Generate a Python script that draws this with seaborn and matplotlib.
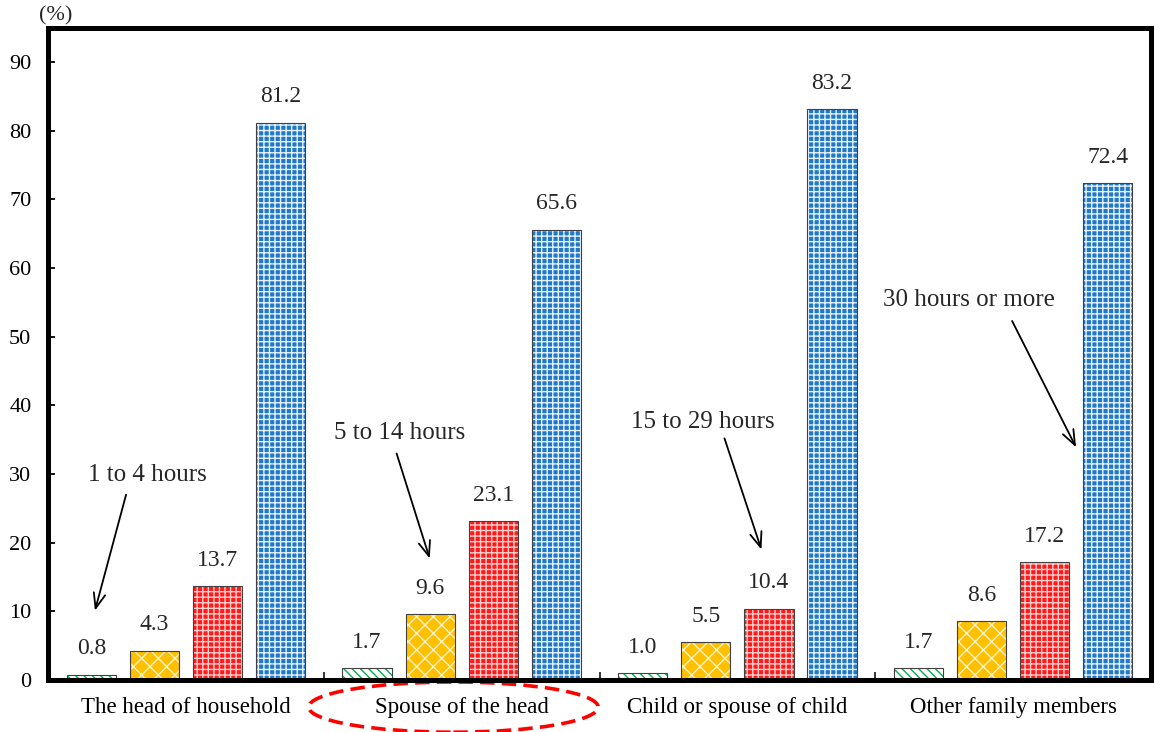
import matplotlib
matplotlib.use("Agg")
import matplotlib.pyplot as plt
import matplotlib.colors as mcolors
from matplotlib.patches import Ellipse
from matplotlib.ticker import FixedLocator
import pandas as pd
import seaborn as sns

# Share of workers by weekly working hours, per relation to household head (%)
categories = ["The head of household", "Spouse of the head",
              "Child or spouse of child", "Other family members"]
hour_groups = ["1 to 4 hours", "5 to 14 hours", "15 to 29 hours", "30 hours or more"]
h_1_4 = [0.8, 1.7, 1.0, 1.7]
h_5_14 = [4.3, 9.6, 5.5, 8.6]
h_15_29 = [13.7, 23.1, 10.4, 17.2]
h_30_plus = [81.2, 65.6, 83.2, 72.4]
y_ticks = [0, 10, 20, 30, 40, 50, 60, 70, 80, 90]

series = [h_1_4, h_5_14, h_15_29, h_30_plus]
df = pd.DataFrame({
    "category": [c for _ in hour_groups for c in categories],
    "hours": [h for h in hour_groups for _ in categories],
    "value": [v for s in series for v in s],
})

sns.set_theme(style="white")
plt.rcParams["font.family"] = ["Liberation Serif", "DejaVu Serif"]
plt.rcParams["hatch.linewidth"] = 1.0

fig = plt.figure(figsize=(11.55, 7.32), dpi=100)
ax = fig.add_axes([0.0416, 0.071, 0.955, 0.891])

sns.barplot(data=df, x="category", y="value", hue="hours",
            order=categories, hue_order=hour_groups, width=0.915, gap=0.22,
            legend=False, ax=ax, errorbar=None)

# fill colour, hatch pattern and hatch colour per hour group
styles = [
    ("white", "\\\\\\\\", "#00B050"),
    ("#FFC000", "xx", "#FFF2CC"),
    ("#FF1A1A", "+++", "#FFD0D0"),
    ("#1F78C8", "+++", "#E8F2FF"),
]
for cont, (fc, hatch, hc) in zip(ax.containers, styles):
    for p in cont:
        p.set_facecolor(fc)
        p.set_edgecolor("#404040")
        p.set_linewidth(0.8)
        p.set_hatch(hatch)
        p._hatch_color = mcolors.to_rgba(hc)
    ax.bar_label(cont, fmt="%.1f", padding=11, fontsize=17)

ax.set_xlim(-0.5, 3.5)
ax.set_ylim(0, 95)
ax.set_yticks(y_ticks)
ax.set_xlabel("")
ax.set_ylabel("")
for s in ax.spines.values():
    s.set_visible(True)
    s.set_linewidth(3.6)
    s.set_color("black")

ax.tick_params(axis="y", direction="in", length=5, width=1.3, pad=12,
               labelsize=16, left=True, colors="black")
ax.tick_params(axis="x", which="major", length=0, pad=12, labelsize=16.5,
               colors="black")
ax.xaxis.set_minor_locator(FixedLocator([0.5, 1.5, 2.5]))
ax.tick_params(axis="x", which="minor", direction="in", length=6, width=1.3,
               bottom=True)

ax.text(0.007, 1.004, "(%)", transform=ax.transAxes, fontsize=16,
        ha="center", va="bottom")

# callouts naming each hour group
callouts = [
    ("1 to 4 hours", (-0.138, 29.8), (-0.217, 27.0), (-0.33, 10.1)),
    ("5 to 14 hours", (0.775, 36.0), (0.764, 33.0), (0.884, 17.7)),
    ("15 to 29 hours", (1.873, 37.6), (1.953, 35.2), (2.087, 19.0)),
    ("30 hours or more", (2.841, 55.4), (2.996, 52.3), (3.228, 33.9)),
]
for label, txt, tail, head in callouts:
    ax.text(txt[0], txt[1], label, fontsize=18, ha="center", va="center")
    ax.annotate("", xy=head, xytext=tail,
                arrowprops=dict(arrowstyle="->,head_length=0.9,head_width=0.35",
                                color="black", lw=1.3, shrinkA=0, shrinkB=0))

# highlight around the second category label
ell = Ellipse((0.97, -0.0415), width=1.05, height=0.077,
              transform=ax.get_xaxis_transform(), fill=False,
              edgecolor="#FF0000", linewidth=2.6, linestyle=(0, (4, 2)),
              clip_on=False)
ax.add_patch(ell)

fig.savefig("out.png", dpi=100, facecolor="white")
